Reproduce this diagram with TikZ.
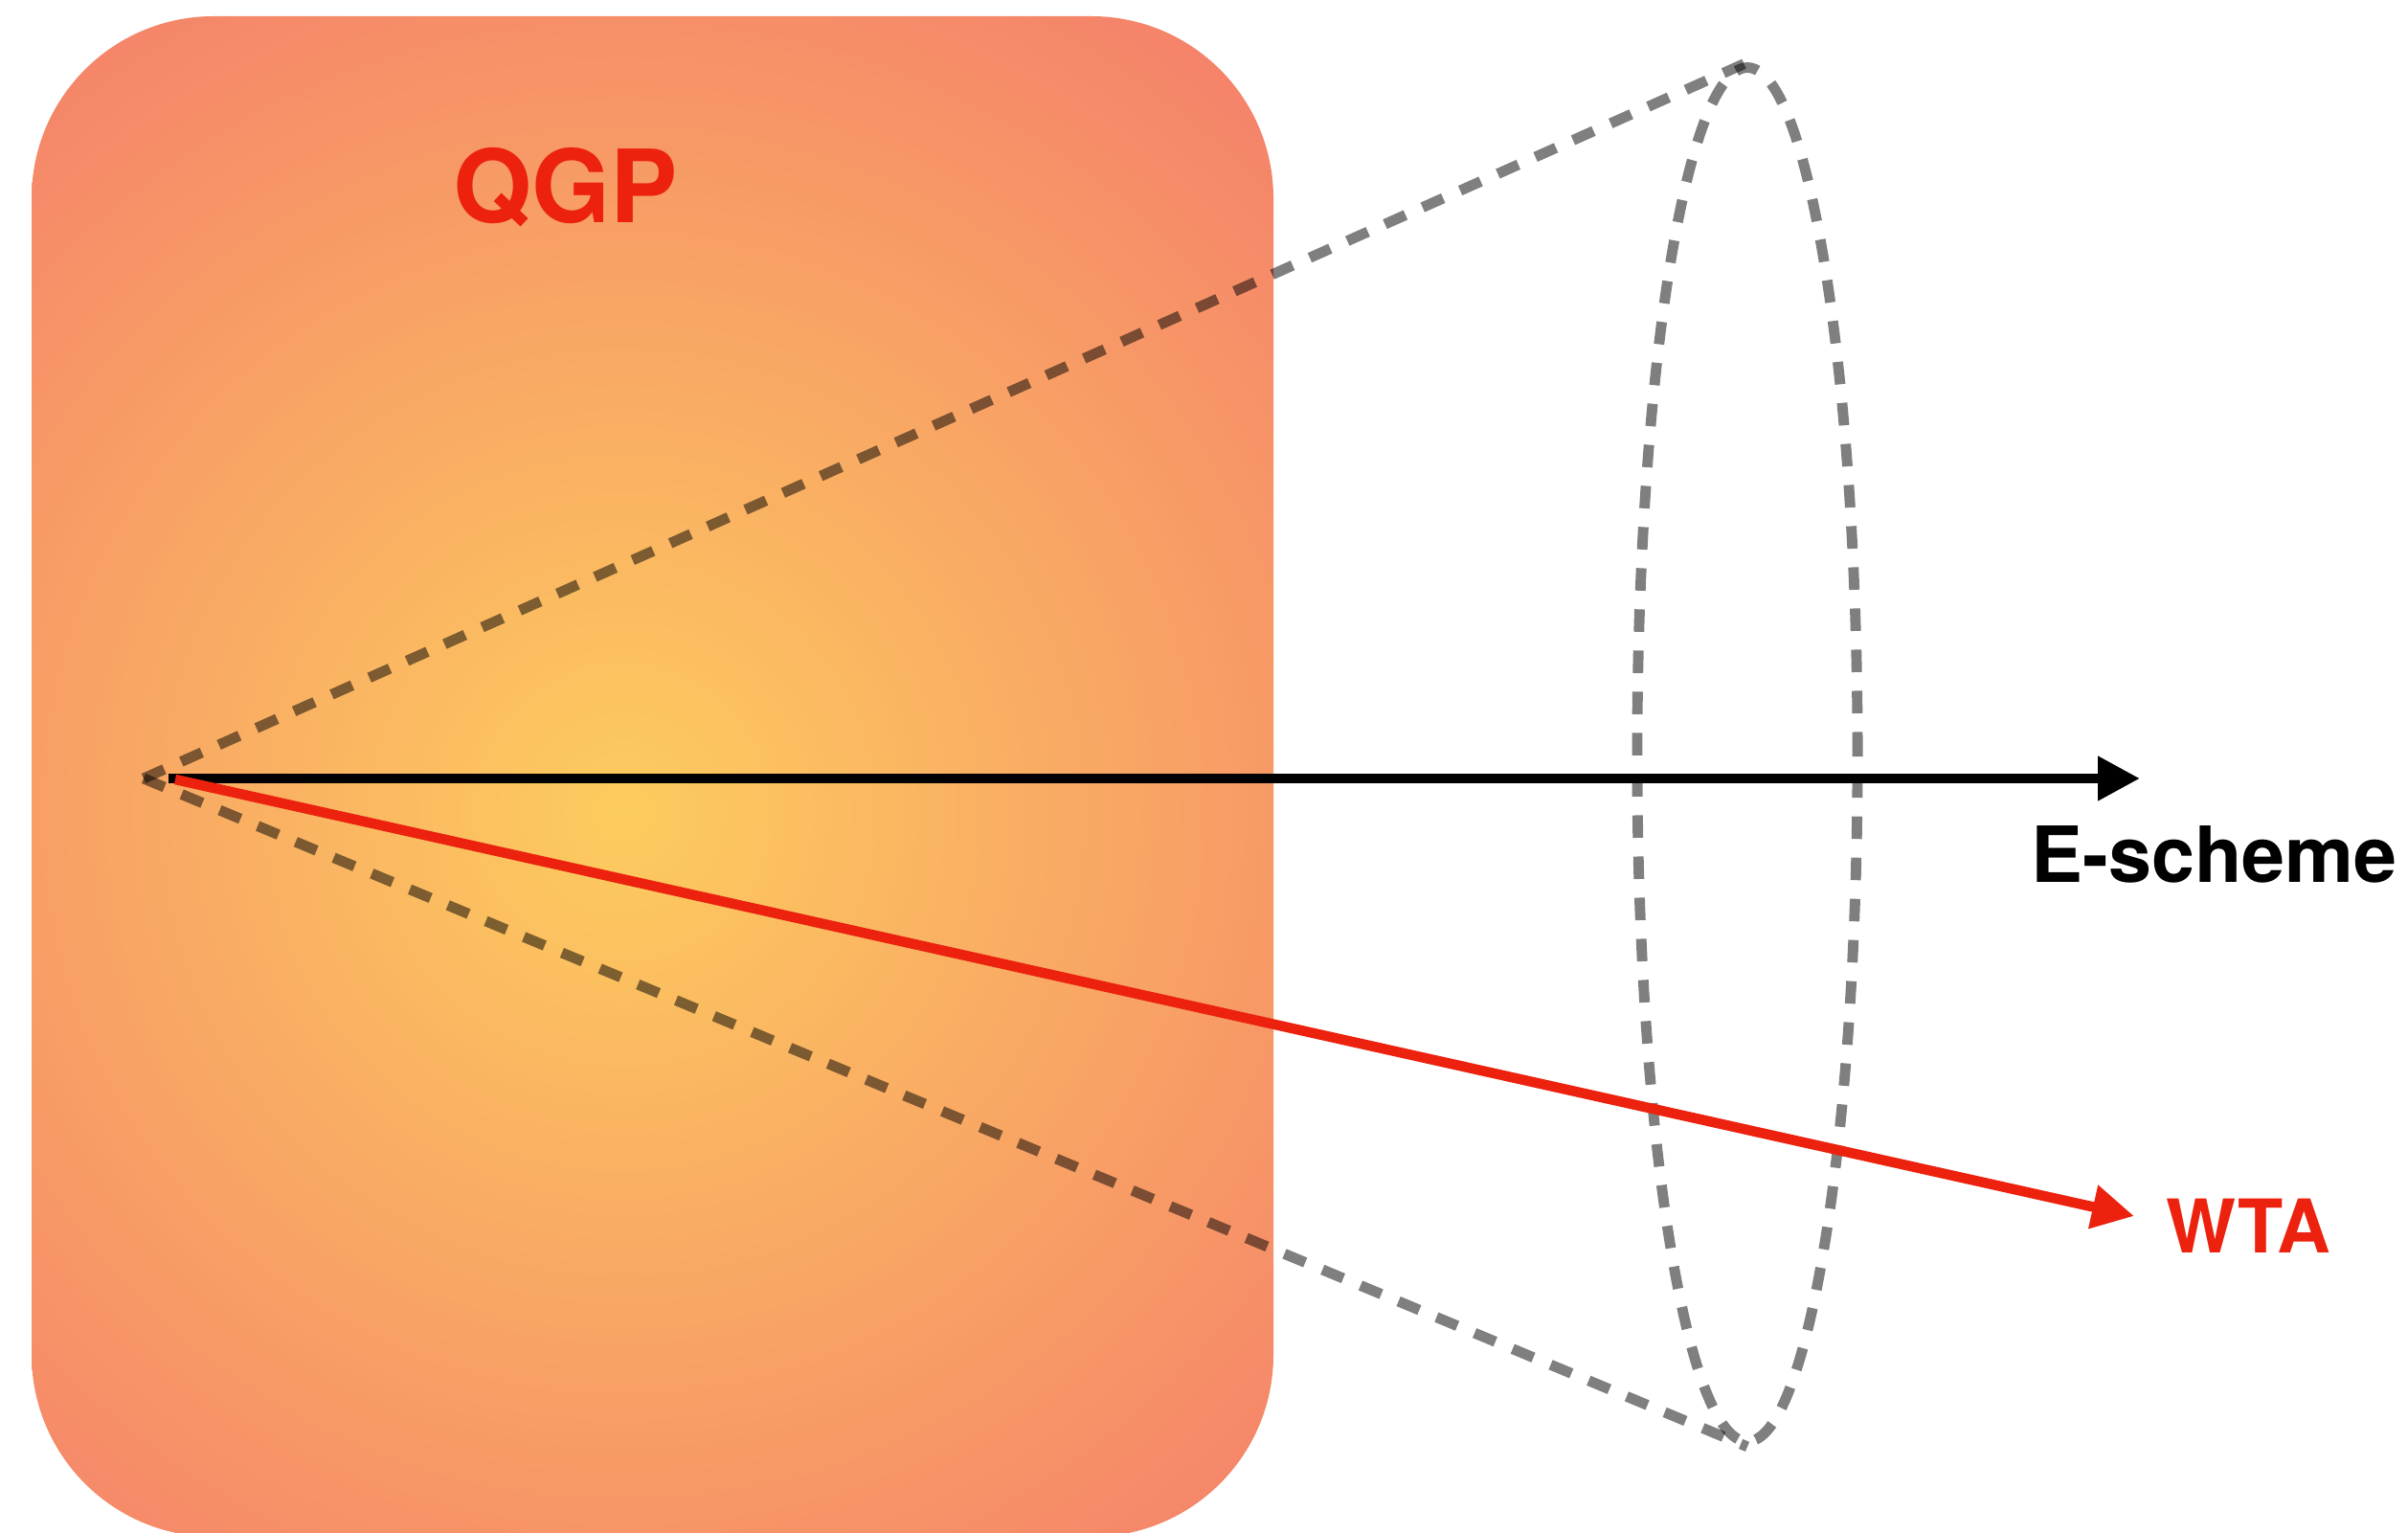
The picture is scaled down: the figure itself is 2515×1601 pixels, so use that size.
\documentclass[tikz,border=0pt]{standalone}
\usepackage{fontspec}
\setmainfont{TeX Gyre Heros}
\usetikzlibrary{arrows.meta,shapes.geometric}
\definecolor{qred}{RGB}{236,34,14}
\definecolor{qyel}{RGB}{253,204,94}
\definecolor{qsal}{RGB}{244,125,107}
\begin{document}
\begin{tikzpicture}[x=0.01cm,y=-0.01cm,
  cone/.style={draw=black,draw opacity=0.5,line width=3.1pt,dash pattern=on 0.235cm off 0.195cm},
  jet/.style={line width=3pt,-{Triangle[length=12.5pt,width=12.5pt]}},
  lbl/.style={font=\bfseries\fontsize{22}{26}\selectfont,inner sep=0pt}]
\useasboundingbox (0,0) rectangle (2515,1601);
\begin{scope}
\clip[rounded corners=1.9cm] (33,17) rectangle (1330,1605);
\shade[inner color=qyel, outer color=qsal] (650,848) circle (1080);
\end{scope}
\coordinate (apex) at (150,813);
\node[ellipse,cone,minimum width=2.3cm,minimum height=14.34cm,inner sep=0pt] (ell) at (1825,788) {};
\draw[cone] (apex) -- (ell.north);
\draw[cone] (apex) -- (ell.south);
\coordinate (bs) at (176,813);
\coordinate (be) at (2235,813);
\coordinate (rs) at (183,814);
\coordinate (re) at (2229,1270);
\draw[jet,black] (bs) -- (be);
\draw[jet,qred] (rs) -- (re);
\node[lbl,font=\bfseries\fontsize{23}{27}\selectfont,anchor=base west] (es) at (2121,922) {E-scheme};
\node[lbl,anchor=base west,text=qred] (wta) at (2262,1308) {WTA};
\node[lbl,font=\bfseries\fontsize{30}{36}\selectfont,text=qred,anchor=base] (qgp) at (591,233) {QGP};
\end{tikzpicture}
\end{document}
